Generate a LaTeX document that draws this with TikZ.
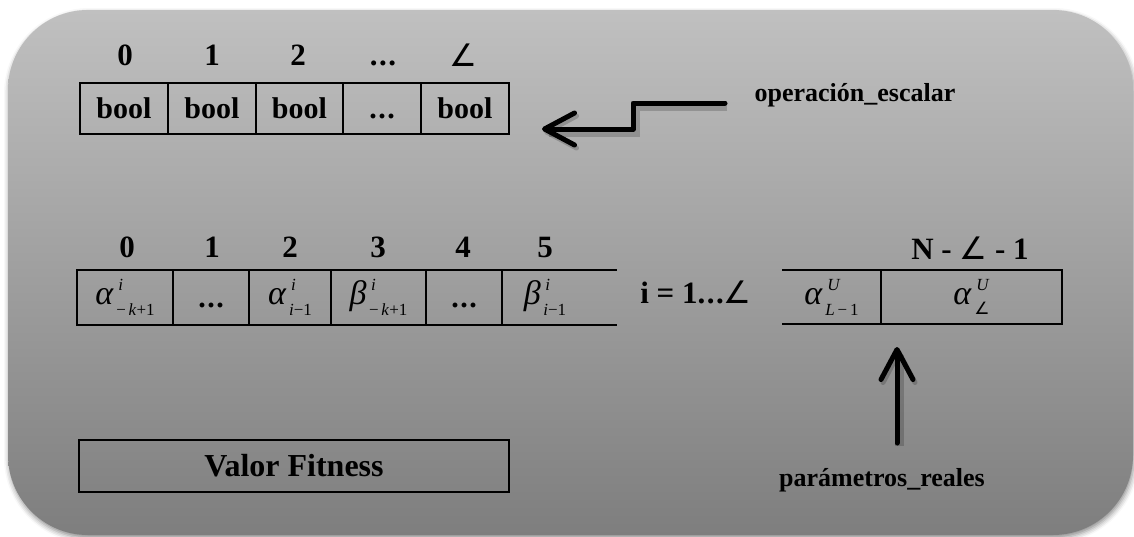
\documentclass[tikz,border=0pt]{standalone}
\usepackage{fontspec}
\setmainfont{Liberation Serif}
\newfontfamily\symf{DejaVu Sans}
\usetikzlibrary{arrows.meta,shadows.blur}

\definecolor{bgtop}{RGB}{192,192,192}
\definecolor{bgbot}{RGB}{126,126,126}

% angle sign, thin weight
\newcommand\ang{{\symf\mdseries ∠}}
% baseline ellipsis made of full stops (strut keeps it on the baseline)
\newcommand\tdots{\vphantom{0}.\kern1.5pt.\kern1.5pt.}
% script size for indices
\newcommand\scf{\fontsize{17}{17}\selectfont\mdseries}
% symbol with a superscript above a subscript (both right of it)
\newcommand\gsym[4][11pt]{\textit{#2}\kern2.5pt\rlap{\kern2pt\raisebox{14pt}{\scf\itshape #3}}\raisebox{-#1}{\scf #4}}

\tikzset{
  cell/.style={draw, line width=2.5pt, inner sep=0pt, outer sep=0pt,
    minimum height=51pt, font=\fontsize{30}{36}\selectfont\bfseries},
  mcell/.style={cell, minimum height=55pt, font=\fontsize{34}{36}\selectfont},
  dcell/.style={cell, minimum height=55pt},
  idx/.style={inner sep=0pt, font=\fontsize{31}{36}\selectfont\bfseries},
  lbl/.style={inner sep=0pt, font=\fontsize{26}{30}\selectfont\bfseries},
  arr/.style={line width=5pt, line cap=round, line join=round,
    -{Straight Barb[length=30pt,width=32pt,line width=5pt,round]},
    preaction={draw=black, opacity=.18, line width=9pt,
      transform canvas={shift={(2pt,-3pt)}}}},
}

\begin{document}
\begin{tikzpicture}[x=1pt,y=-1pt]
\useasboundingbox (0,0) rectangle (1134,536);

% shaded panel
\path[top color=bgtop, bottom color=bgbot, rounded corners=80pt,
  blur shadow={shadow xshift=1pt, shadow yshift=-3pt, shadow blur radius=5pt, shadow opacity=45}]
  (8,10) rectangle (1133,535);

% boolean vector
\node[cell, minimum width=88pt] (b0) at (124,108.5) {bool};
\node[cell, minimum width=88pt] (b1) at (212,108.5) {bool};
\node[cell, minimum width=87pt] (b2) at (299.5,108.5) {bool};
\node[cell, minimum width=78pt] (b3) at (382,108.5) {\vphantom{b}\tdots};
\node[cell, minimum width=88pt] (b4) at (465,108.5) {bool};

\node[idx] (bi0) at (125,55) {0};
\node[idx] (bi1) at (212,55) {1};
\node[idx] (bi2) at (298,55) {2};
\node[idx] (bi3) at (383,55) {\tdots};
\node[idx] (bi4) at (463,55) {\ang};

% parameter vector
\node[mcell, minimum width=96pt] (m0) at (125,297.5) {\gsym{α}{i}{−\,\textit{k}+1}};
\node[dcell, minimum width=76pt] (m1) at (211,297.5) {\tdots};
\node[mcell, minimum width=82pt] (m2) at (290,297.5) {\gsym{α}{i}{\textit{i}−1}};
\node[mcell, minimum width=95pt] (m3) at (378.5,297.5) {\gsym{β}{i}{−\,\textit{k}+1}};
\node[dcell, minimum width=76pt] (m4) at (464,297.5) {\tdots};
\node[mcell, draw=none, minimum width=86pt] (m5) at (545,297.5) {\gsym{β}{i}{\textit{i}−1}};
\coordinate (mT) at (617,270);
\coordinate (mB) at (617,325);
\draw[line width=2.5pt] (m4.north east) -- (mT);
\draw[line width=2.5pt] (m4.south east) -- (mB);

\node[idx] (mi0) at (127,247) {0};
\node[idx] (mi1) at (212,247) {1};
\node[idx] (mi2) at (290,247) {2};
\node[idx] (mi3) at (378,247) {3};
\node[idx] (mi4) at (463,247) {4};
\node[idx] (mi5) at (545,247) {5};

\node[idx] (rng) at (696,292) {i = 1\tdots\ang};

% upper parameters
\node[mcell, draw=none, minimum width=99pt, minimum height=54pt] (r0) at (831.5,297) {\gsym{α}{U}{\textit{L}\,−\,1}};
\node[mcell, minimum width=181pt, minimum height=54pt] (r1) at (971.5,297) {\gsym[10pt]{α}{U}{\ang}};
\coordinate (rT) at (782,270);
\coordinate (rB) at (782,324);
\draw[line width=2.5pt] (rT) -- (r1.north west);
\draw[line width=2.5pt] (rB) -- (r1.south west);
\node[idx] (ri) at (970,248) {N - \ang{} - 1};

% fitness value
\node[cell, minimum width=430pt, minimum height=52pt, font=\fontsize{32}{38}\selectfont\bfseries] (fit) at (294,466) {Valor Fitness};

% labels and arrows
\node[lbl] (op) at (855,95) {operación\_escalar};
\node[lbl] (pr) at (882,480) {parámetros\_reales};

\coordinate (opS) at (725,103);
\coordinate (opT) at (542,129);
\draw[arr] (opS) -- ++(-92,0) |- (opT);

\coordinate (prS) at (897,443);
\coordinate (prT) at (897,347);
\draw[arr] (prS) -- (prT);
\end{tikzpicture}
\end{document}
